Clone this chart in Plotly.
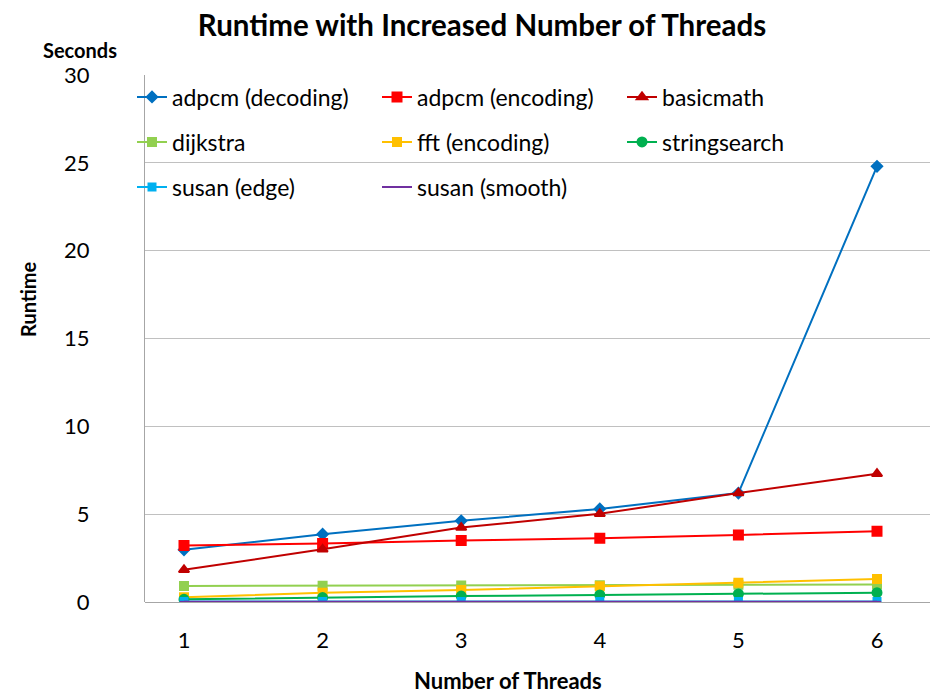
import plotly.graph_objects as go

threads = [1, 2, 3, 4, 5, 6]
adpcm_dec = [2.97, 3.86, 4.62, 5.3, 6.2, 24.8]
adpcm_enc = [3.21, 3.33, 3.5, 3.63, 3.82, 4.03]
basicmath = [1.83, 3.0, 4.24, 5.02, 6.2, 7.3]
dijkstra = [0.91, 0.93, 0.94, 0.96, 0.98, 0.99]
fft_enc = [0.27, 0.53, 0.68, 0.9, 1.1, 1.31]
stringsearch = [0.15, 0.25, 0.34, 0.4, 0.46, 0.53]
susan_edge = [0.03, 0.03, 0.03, 0.03, 0.03, 0.03]
susan_smooth = [0.01, 0.01, 0.01, 0.01, 0.01, 0.01]

FONT = "Lato"
W, H = 938, 693
OFF = 8  # page body margin offset
L, T, R, B = 145 - OFF, 75 - OFF, 0, H - (602 - OFF)
PW, PH = W - L - R, H - T - B

def cx(sx):  # screen px -> container fraction
    return (sx - OFF) / W

def cy(sy):
    return 1 - (sy - OFF) / H

def px(sx):  # screen px -> paper fraction
    return (sx - OFF - L) / PW

def py(sy):
    return (H - B - (sy - OFF)) / PH

series = [
    ("adpcm (decoding)", adpcm_dec, "#0070C0", "diamond", 8, "legend"),
    ("adpcm (encoding)", adpcm_enc, "#FF0000", "square", 9, "legend"),
    ("basicmath", basicmath, "#C00000", "triangle-up", 9, "legend"),
    ("dijkstra", dijkstra, "#92D050", "square", 8, "legend2"),
    ("fft (encoding)", fft_enc, "#FFC000", "square", 8, "legend2"),
    ("stringsearch", stringsearch, "#00B050", "circle", 9, "legend2"),
    ("susan (edge)", susan_edge, "#00B0F0", "square", 7, "legend3"),
    ("susan (smooth)", susan_smooth, "#7030A0", "line-ew", 6, "legend3"),
]

fig = go.Figure()
for name, vals, color, sym, size, lg in series:
    fig.add_trace(go.Scatter(
        x=threads, y=vals, name=name, mode="lines+markers",
        line=dict(color=color, width=2),
        marker=dict(symbol=sym, size=size, color=color,
                    line=dict(color=color, width=2)),
        legend=lg,
    ))

legend_common = dict(orientation="h", entrywidth=200, entrywidthmode="pixels",
                     font=dict(family=FONT, size=23, color="#000"),
                     bgcolor="rgba(0,0,0,0)", xanchor="left", yanchor="middle",
                     xref="container", yref="container",
                     x=cx(132), itemwidth=30, traceorder="normal")

# x range from pixel positions of categories (1 at 184, 6 at 877)
unit = (877 - 184) / 5.0
x0 = 1 - (184 - 145) / unit
x1 = x0 + PW / unit

fig.update_layout(
    width=W, height=H,
    margin=dict(l=L, r=R, t=T, b=B, autoexpand=False),
    paper_bgcolor="white", plot_bgcolor="white",
    title=dict(text="<b>Runtime with Increased Number of Threads</b>",
               x=cx(482), xref="container", xanchor="center", y=cy(26), yanchor="middle",
               font=dict(family=FONT, size=29.5, color="#000")),
    font=dict(family=FONT, color="#000"),
    legend=dict(**legend_common, y=cy(97)),
    legend2=dict(**legend_common, y=cy(142)),
    legend3=dict(**legend_common, y=cy(187)),
    xaxis=dict(range=[x0, x1], tickvals=threads, ticktext=[str(t) for t in threads],
               showgrid=False, showline=False, zeroline=False, automargin=False,
               tickfont=dict(family=FONT, size=22), ticks="", ticklabelstandoff=23),
    yaxis=dict(range=[0, 30], dtick=5, showgrid=True, gridcolor="#C0C0C0", gridwidth=1.3,
               showline=True, linecolor="#A6A6A6", linewidth=1.3, zeroline=True,
               zerolinecolor="#A6A6A6", zerolinewidth=1.3, automargin=False,
               tickfont=dict(family=FONT, size=22), ticks="", ticklabelstandoff=50),
    annotations=[
        dict(text="<b>Seconds</b>", x=px(80), y=py(50), xanchor="center", yanchor="middle",
             xref="paper", yref="paper", showarrow=False,
             font=dict(family=FONT, size=20, color="#000")),
        dict(text="<b>Runtime</b>", x=px(28), y=py(299), xanchor="center", yanchor="middle",
             xref="paper", yref="paper", showarrow=False, textangle=-90,
             font=dict(family=FONT, size=20, color="#000")),
        dict(text="<b>Number of Threads</b>", x=px(508), y=py(680), xanchor="center", yanchor="middle",
             xref="paper", yref="paper", showarrow=False,
             font=dict(family=FONT, size=22, color="#000")),
    ],
)
fig.write_html("out.html")
